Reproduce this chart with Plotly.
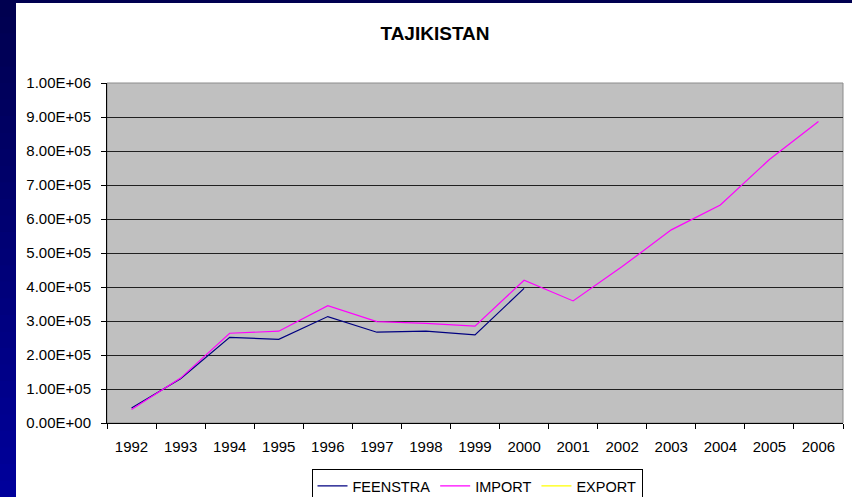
import plotly.graph_objects as go

years = [str(y) for y in range(1992, 2007)]
feenstra = [44000, 130000, 252000, 246000, 313000, 267000, 270000, 259000, 396000,
            None, None, None, None, None, None]
imports = [40000, 132000, 264000, 270000, 345000, 298000, 293000, 285000, 420000,
           359000, 460000, 568000, 641000, 775000, 887000]
exports = [None] * 15
y_ticks = [i * 100000 for i in range(11)]
y_labels = ["0.00E+00"] + ["%d.00E+05" % i for i in range(1, 10)] + ["1.00E+06"]

W, H = 852, 497
L, R, T, B = 107, 9, 83, 74
pw, ph = W - L - R, H - T - B

font = "Arial, Liberation Sans, sans-serif"

fig = go.Figure()
fig.add_trace(go.Scatter(x=years, y=feenstra, name="FEENSTRA", mode="lines",
                         line=dict(color="#000080", width=1.2)))
fig.add_trace(go.Scatter(x=years, y=imports, name="IMPORT", mode="lines",
                         line=dict(color="#ff00ff", width=1.2)))
fig.add_trace(go.Scatter(x=years, y=exports, name="EXPORT", mode="lines",
                         line=dict(color="#ffff00", width=1.2)))


# pixel position -> paper coords
def px(x):
    return (x - L) / pw


def py(y):
    return (H - B - y) / ph


shapes = []
# slide background strip (navy gradient) on the left and top
n = 30
for i in range(n):
    t = i / (n - 1)
    c = "rgb(0,0,%d)" % int(80 + t * 75)
    shapes.append(dict(type="rect", xref="paper", yref="paper",
                       x0=px(0), x1=px(16), y0=py(i * H / n), y1=py((i + 1) * H / n + 1),
                       fillcolor=c, line=dict(width=0), layer="above"))
shapes.append(dict(type="rect", xref="paper", yref="paper", x0=px(0), x1=px(W), y0=py(0), y1=py(3),
                   fillcolor="rgb(0,0,80)", line=dict(width=0), layer="above"))
# plot area border
shapes.append(dict(type="rect", xref="paper", yref="paper", x0=0, x1=1, y0=0, y1=1,
                   line=dict(color="#8c8c8c", width=1), layer="below"))

fig.update_layout(
    width=W, height=H,
    margin=dict(l=L, r=R, t=T, b=B, autoexpand=False),
    paper_bgcolor="white",
    plot_bgcolor="#c0c0c0",
    font=dict(family=font, size=15, color="black"),
    title=dict(text="<b>TAJIKISTAN</b>", x=435 / W, xanchor="center", y=1 - 33 / H, yanchor="middle",
               font=dict(size=19, family=font, color="black")),
    shapes=shapes,
    showlegend=True,
    legend=dict(orientation="h", x=px(477), xanchor="center", y=py(469), yanchor="top",
                bgcolor="white", bordercolor="black", borderwidth=1,
                font=dict(size=14.5, family=font), tracegroupgap=0),
    xaxis=dict(type="category", tickson="boundaries", ticks="outside", ticklen=5, tickcolor="black",
               showline=True, linecolor="black", linewidth=1, showgrid=False,
               range=[-0.5, 14.5], ticklabelstandoff=10, automargin=False),
    yaxis=dict(range=[0, 1000000], tickvals=y_ticks, ticktext=y_labels, ticks="outside", ticklen=5,
               tickcolor="black", showline=True, linecolor="black", linewidth=1,
               showgrid=True, gridcolor="#202020", gridwidth=1, zeroline=False,
               ticklabelstandoff=7, automargin=False),
)

# page body has an 8px default margin; drop it so the figure fills the window
fig.write_html("out.html", config={"displayModeBar": False},
               post_script="document.body.style.margin='0px';")
